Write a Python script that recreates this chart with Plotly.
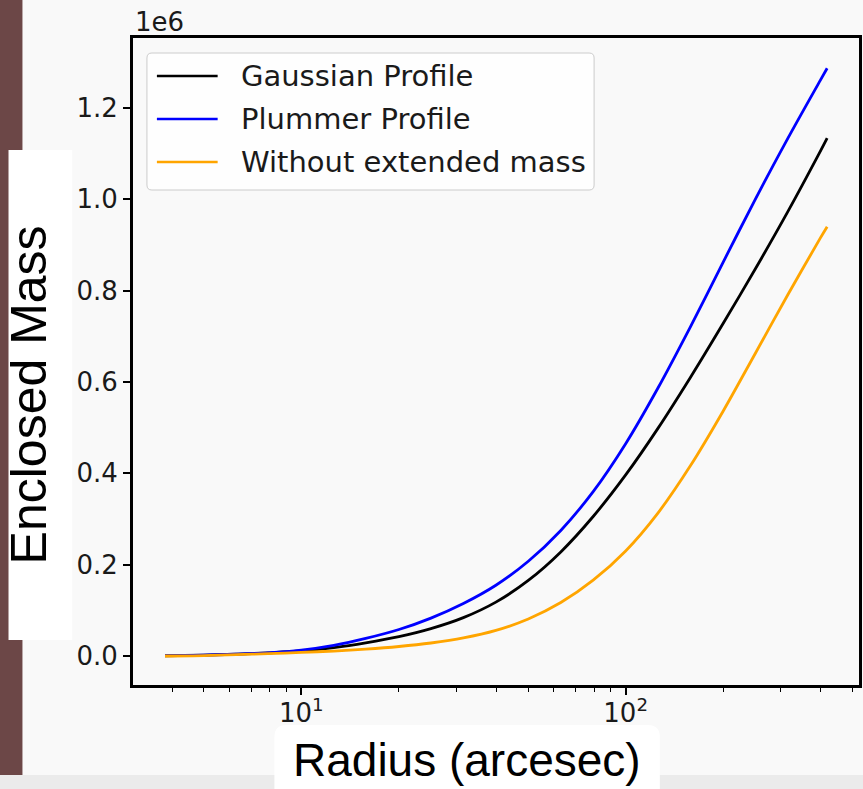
import plotly.graph_objects as go

# Enclosed mass (in units of 1e6) versus radius in arcsec
radius = [3.8, 5.0, 6.3, 7.9, 10, 12.6, 15.8, 20, 25.1, 31.6, 39.8, 50.1,
          63.1, 79.4, 100, 125.9, 158.5, 199.5, 251.2, 316.2, 398.1, 418]
gaussian = [0.0005, 0.002, 0.004, 0.007, 0.011, 0.0185, 0.029, 0.0425, 0.060, 0.084, 0.118,
            0.1655, 0.228, 0.3055, 0.3965, 0.499, 0.6105, 0.7275, 0.848, 0.973, 1.105, 1.134]
plummer = [0.001, 0.002, 0.004, 0.007, 0.013, 0.0235, 0.0385, 0.058, 0.083, 0.115, 0.155,
           0.2075, 0.275, 0.360, 0.465, 0.5875, 0.7215, 0.8615, 1.0005, 1.1335, 1.2605, 1.287]
no_extended = [0.0, 0.001, 0.003, 0.005, 0.008, 0.0108, 0.015, 0.0208, 0.0285, 0.0395, 0.056,
               0.081, 0.117, 0.166, 0.230, 0.3135, 0.417, 0.5355, 0.663, 0.791, 0.915, 0.940]

y_ticks = [0.0, 0.2, 0.4, 0.6, 0.8, 1.0, 1.2]
x_ticks = [10, 100]
x_tick_text = ["10<sup>1</sup>", "10<sup>2</sup>"]
x_minor = [4, 5, 6, 7, 8, 9, 20, 30, 40, 50, 60, 70, 80, 90, 200, 300, 400, 500]

W, H = 863, 789
L, R, T, B = 133, 1, 38, 104
pw, ph = W - L - R, H - T - B


def px(x):
    return (x - L) / pw


def py(y):
    return (H - B - y) / ph


def rounded_box(xa, xb, ya, yb, r):
    """SVG path (paper coords) for a rectangle with rounded corners, pixel inputs."""
    x0, x1, y0, y1 = px(xa), px(xb), py(ya), py(yb)
    rx, ry = r / pw, r / ph
    return (
        f"M{x0 + rx},{y0} L{x1 - rx},{y0} Q{x1},{y0} {x1},{y0 - ry} "
        f"L{x1},{y1 + ry} Q{x1},{y1} {x1 - rx},{y1} "
        f"L{x0 + rx},{y1} Q{x0},{y1} {x0},{y1 + ry} "
        f"L{x0},{y0 - ry} Q{x0},{y0} {x0 + rx},{y0} Z"
    )


series = [
    ("Gaussian Profile", gaussian, "#000000"),
    ("Plummer Profile", plummer, "#0000ff"),
    ("Without extended mass", no_extended, "#ffa500"),
]

fig = go.Figure()
for name, vals, color in series:
    fig.add_trace(go.Scatter(
        x=radius, y=vals, mode="lines", name=name, showlegend=False,
        line=dict(color=color, width=2.8, shape="spline", smoothing=0.9),
    ))

tick_font = dict(family="DejaVu Sans", size=26, color="#1a1a1a")

fig.update_layout(
    width=W, height=H,
    margin=dict(l=L, r=R, t=T, b=B),
    paper_bgcolor="#f9f9f9",
    plot_bgcolor="#f9f9f9",
    showlegend=False,
    xaxis=dict(
        type="log", range=[0.4811, 2.7194],
        tickvals=x_ticks, ticktext=x_tick_text,
        ticks="outside", ticklen=7, tickwidth=1.5, tickcolor="#000",
        ticklabelstandoff=-4,
        minor=dict(tickvals=x_minor, ticks="outside", ticklen=4, tickwidth=1.2, tickcolor="#000"),
        showline=True, linewidth=3, linecolor="#000", mirror=True,
        showgrid=False, zeroline=False, tickfont=tick_font,
    ),
    yaxis=dict(
        range=[-0.0635, 1.3533],
        tickvals=y_ticks, ticktext=[f"{v:.1f}" for v in y_ticks],
        ticks="outside", ticklen=7, tickwidth=1.5, tickcolor="#000",
        showline=True, linewidth=3, linecolor="#000", mirror=True,
        showgrid=False, zeroline=False, tickfont=tick_font,
    ),
)

shapes = [
    # side stripe, bottom strip and white label panels
    dict(type="rect", xref="paper", yref="paper", x0=px(-5), x1=px(22), y0=py(-5), y1=py(775),
         fillcolor="#6c4747", line=dict(width=0), layer="below"),
    dict(type="rect", xref="paper", yref="paper", x0=px(-5), x1=px(870), y0=py(775), y1=py(800),
         fillcolor="#ebebeb", line=dict(width=0), layer="below"),
    dict(type="rect", xref="paper", yref="paper", x0=px(8), x1=px(72), y0=py(150), y1=py(640),
         fillcolor="#ffffff", line=dict(width=0), layer="below"),
    dict(type="path", xref="paper", yref="paper", path=rounded_box(275, 662, 725, 812, 12),
         fillcolor="#ffffff", line=dict(width=0), layer="below"),
    # legend frame
    dict(type="path", xref="paper", yref="paper", path=rounded_box(147, 596, 53, 190, 5),
         fillcolor="rgba(255,255,255,0.8)", line=dict(color="#cccccc", width=1), layer="above"),
]

annotations = [
    dict(text="Enclosed Mass", xref="paper", yref="paper", x=px(29), y=py(395),
         textangle=-90, showarrow=False, xanchor="center", yanchor="middle",
         font=dict(family="Liberation Sans", size=50, color="#000")),
    dict(text="Radius (arcesec)", xref="paper", yref="paper", x=px(468), y=py(760),
         showarrow=False, xanchor="center", yanchor="middle",
         font=dict(family="Liberation Sans", size=46, color="#000")),
    dict(text="1e6", xref="paper", yref="paper", x=px(133), y=py(22),
         showarrow=False, xanchor="left", yanchor="middle",
         font=dict(family="DejaVu Sans", size=26, color="#1a1a1a")),
]

# legend entries: sample line + label
row_y = [76, 119, 162]
for (name, _, color), ry in zip(series, row_y):
    shapes.append(dict(type="line", xref="paper", yref="paper",
                       x0=px(157), x1=px(218), y0=py(ry), y1=py(ry),
                       line=dict(color=color, width=2.5), layer="above"))
    annotations.append(dict(text=name, xref="paper", yref="paper", x=px(239), y=py(ry),
                            showarrow=False, xanchor="left", yanchor="middle",
                            font=dict(family="DejaVu Sans", size=29, color="#1a1a1a")))

fig.update_layout(shapes=shapes, annotations=annotations)

fig.write_html("out.html")
